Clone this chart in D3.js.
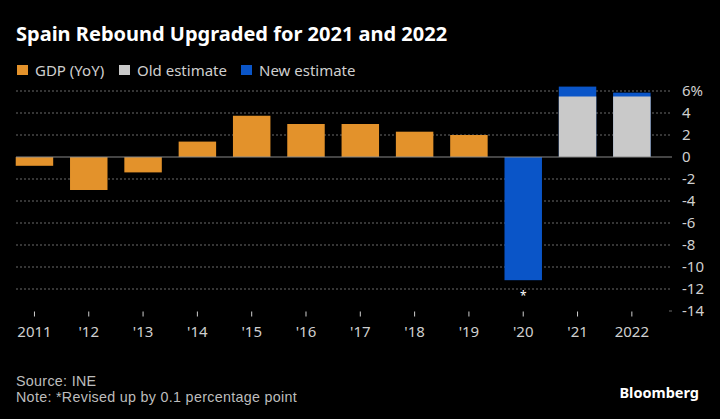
<!DOCTYPE html>
<html><head><meta charset="utf-8">
<script src="https://cdn.jsdelivr.net/npm/d3@7"></script>
<style>
html,body{margin:0;padding:0;background:#000;}
svg{display:block;font-family:"Noto Sans",sans-serif;}
</style></head>
<body><svg id="c" width="720" height="419"></svg>
<script>
const years = ["2011","'12","'13","'14","'15","'16","'17","'18","'19","'20","'21","2022"];
const gdp = [-0.8,-3.0,-1.4,1.4,3.75,3.0,3.0,2.3,2.0,null,null,null];
const oldEst = [null,null,null,null,null,null,null,null,null,null,5.5,5.5];
const newEst = [null,null,null,null,null,null,null,null,null,-11.2,6.4,5.85];
const yTicks = [6,4,2,0,-2,-4,-6,-8,-10,-12,-14];
const legendItems = ["GDP (YoY)","Old estimate","New estimate"];
const colors = {gdp:"#E3922B", old:"#C9C9C9", neu:"#0A55C8"};

const svg = d3.select("#c");
svg.append("rect").attr("width",720).attr("height",419).attr("fill","#000");

const x = d3.scaleBand().domain(years).range([7.3,659]).paddingInner(0.31).paddingOuter(0.155);
const y = d3.scaleLinear().domain([-14,6]).range([311,91]);
const left = 16, right = 672;

svg.append("text").attr("x",16).attr("y",41).attr("fill","#fff")
  .attr("font-size",20).attr("font-weight",700).text("Spain Rebound Upgraded for 2021 and 2022");

// legend
const legCols = [colors.gdp, colors.old, colors.neu];
const legX = [16,118,240];
legendItems.forEach((t,i)=>{
  svg.append("rect").attr("x",legX[i]+1).attr("y",65).attr("width",11).attr("height",10).attr("fill",legCols[i]);
  svg.append("text").attr("x",legX[i]+19).attr("y",75.5).attr("fill","#cfcfcf").attr("font-size",15).text(t);
});

// gridlines
const grid = svg.append("g");
yTicks.filter(d=>d!==0 && d!==-14).forEach(d=>{
  grid.append("line").attr("x1",left).attr("x2",right).attr("y1",y(d)).attr("y2",y(d))
    .attr("stroke","#6a6a6a").attr("stroke-width",1).attr("stroke-dasharray","2,2");
});
grid.append("line").attr("x1",right-3).attr("x2",right).attr("y1",y(-14)).attr("y2",y(-14))
    .attr("stroke","#6a6a6a").attr("stroke-width",1);

// y axis labels
const ya = svg.append("g").attr("transform",`translate(${right},0)`)
  .call(d3.axisRight(y).tickValues(yTicks).tickSize(0).tickPadding(10)
    .tickFormat(d=>d===6?"6%":String(d)));
ya.select(".domain").remove();
ya.selectAll("text").attr("fill","#cfcfcf").attr("font-size",15).attr("font-family","Noto Sans");

// bars
const bars = svg.append("g");
years.forEach((yr,i)=>{
  if(newEst[i]!==null){
    const v=newEst[i];
    bars.append("rect").attr("x",x(yr)).attr("width",x.bandwidth())
      .attr("y",y(Math.max(0,v))).attr("height",Math.abs(y(v)-y(0))).attr("fill",colors.neu);
  }
  if(oldEst[i]!==null){
    const v=oldEst[i];
    bars.append("rect").attr("x",x(yr)).attr("width",x.bandwidth())
      .attr("y",y(Math.max(0,v))).attr("height",Math.abs(y(v)-y(0))).attr("fill",colors.old);
  }
  if(gdp[i]!==null){
    const v=gdp[i];
    bars.append("rect").attr("x",x(yr)).attr("width",x.bandwidth())
      .attr("y",y(Math.max(0,v))).attr("height",Math.abs(y(v)-y(0))).attr("fill",colors.gdp);
  }
});

// zero line
svg.append("line").attr("x1",left).attr("x2",right).attr("y1",y(0)).attr("y2",y(0))
  .attr("stroke","#888").attr("stroke-width",1.2);

// x axis
const xa = svg.append("g").attr("transform",`translate(0,${y(-14)})`)
  .call(d3.axisBottom(x).tickSize(5).tickPadding(10));
xa.select(".domain").remove();
xa.selectAll("line").attr("stroke","#cfcfcf").attr("transform","translate(0,0.5)");
xa.selectAll("text").attr("fill","#cfcfcf").attr("font-size",15).attr("font-family","Noto Sans");

// asterisk
svg.append("text").attr("x",x("'20")+x.bandwidth()/2).attr("y",y(-12.3)+8).attr("text-anchor","middle")
  .attr("fill","#fff").attr("font-size",12).text("*");

// footer
const foot = svg.append("g").attr("font-family","'Liberation Sans',Arial,sans-serif").attr("fill","#bdbdbd")
  .attr("font-size",14.3).attr("letter-spacing",0.3);
foot.append("text").attr("x",16).attr("y",386).text("Source: INE");
foot.append("text").attr("x",16).attr("y",402).text("Note: *Revised up by 0.1 percentage point");
svg.append("text").attr("x",699).attr("y",398).attr("text-anchor","end").attr("fill","#fff")
  .attr("font-size",14.5).attr("font-weight",700).text("Bloomberg");
</script></body></html>
